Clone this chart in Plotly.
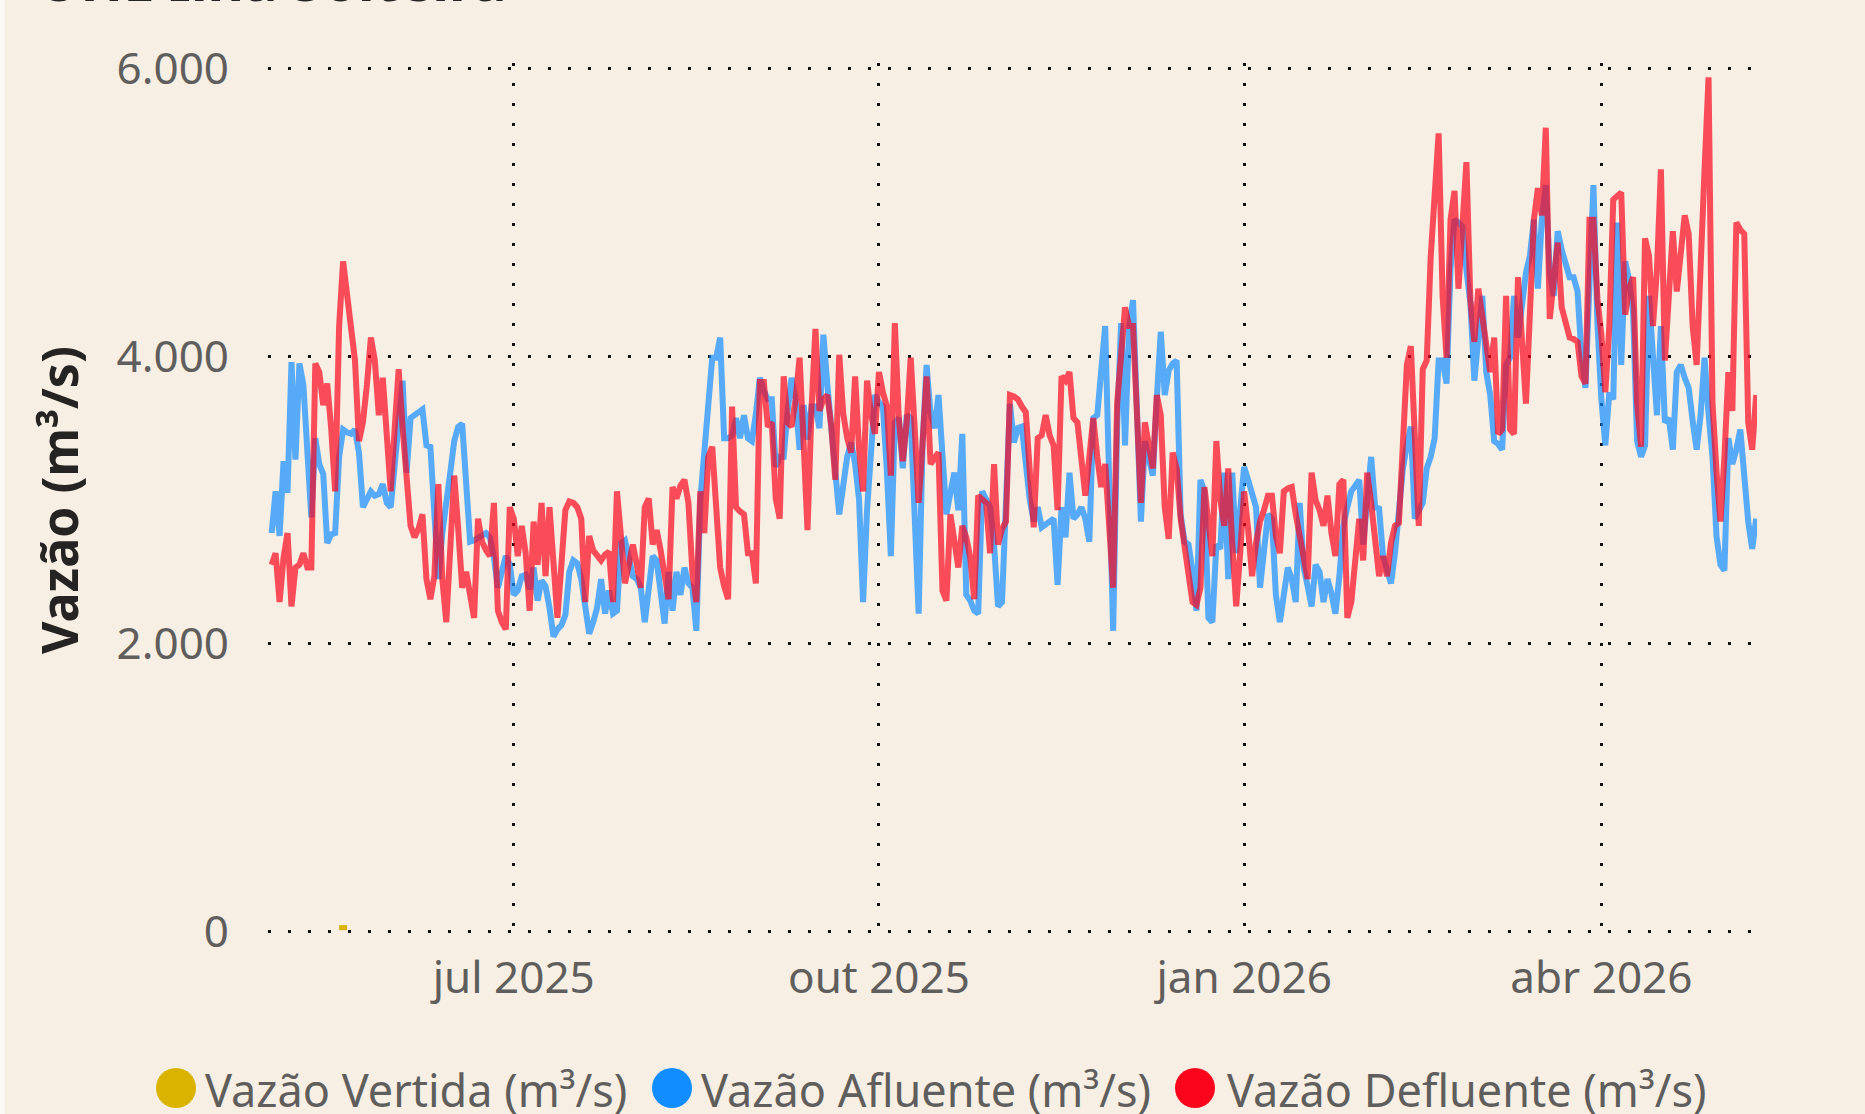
import pandas as pd
import plotly.graph_objects as go

# ---------------- data ----------------
start_date = "2025-05-01"
n_days = 375

vazao_afluente = [
    2770, 3060, 2750, 3270, 3050, 3960, 3280, 3950, 3800, 3400,
    2880, 3430, 3250, 3180, 2700, 2760, 2770, 3300, 3490, 3470,
    3460, 3490, 3330, 2950, 3000, 3060, 3030, 3040, 3110, 2980,
    2950, 3250, 3550, 3830, 3190, 3570, 3590, 3610, 3630, 3380,
    3370, 2900, 2450, 2770, 2950, 3190, 3410, 3510, 3530, 3100,
    2710, 2720, 2740, 2750, 2770, 2740, 2600, 2390, 2500, 2610,
    2550, 2340, 2370, 2470, 2480, 2380, 2530, 2300, 2440, 2400,
    2250, 2050, 2100, 2130, 2200, 2500, 2580, 2560, 2450, 2290,
    2070, 2150, 2250, 2450, 2210, 2370, 2210, 2230, 2700, 2720,
    2600, 2470, 2450, 2390, 2150, 2400, 2610, 2580, 2350, 2140,
    2500, 2230, 2500, 2340, 2530, 2420, 2390, 2090, 3000, 3300,
    3600, 3990, 3990, 4130, 3430, 3430, 3450, 3570, 3430, 3590,
    3430, 3410, 3600, 3850, 3760, 3700, 3700, 3230, 3300, 3300,
    3620, 3850, 3700, 3350, 3660, 3420, 3650, 3650, 3500, 4150,
    3800, 3500, 3200, 2900, 3100, 3300, 3400, 3250, 3000, 2290,
    2930, 3300, 3730, 3680, 3650, 3200, 2610, 3540, 3570, 3220,
    3590, 3570, 2900, 2210, 3400, 3940, 3600, 3500, 3730, 3300,
    2900, 3050, 3190, 2930, 3460, 2340, 2300, 2230, 2210, 3060,
    3000, 2950, 2690, 2260, 2290, 2900, 3670, 3400, 3500, 3510,
    3250, 3000, 2850, 2950, 2810, 2830, 2850, 2870, 2410, 2950,
    2740, 3190, 2870, 2900, 2950, 2870, 2710, 3570, 3590, 3900,
    4210, 3140, 2090, 3500, 4230, 3380, 4200, 4390, 3670, 2850,
    3410, 3300, 3170, 3700, 4170, 3730, 3900, 3950, 3970, 2900,
    2710, 2690, 2500, 2230, 3140, 3060, 2180, 2150, 2690, 2660,
    3190, 2450, 3190, 2630, 2900, 3230, 3140, 3050, 2950, 2390,
    2650, 2900, 2870, 2340, 2150, 2350, 2530, 2450, 2290, 2980,
    2530, 2400, 2260, 2550, 2500, 2290, 2450, 2350, 2210, 2470,
    2820, 2950, 3060, 3100, 3140, 2690, 3000, 3300, 2950, 2940,
    2610, 2500, 2420, 2630, 2950, 3220, 3380, 3510, 2870, 2930,
    2980, 3220, 3300, 3430, 3970, 3970, 3810, 4610, 4950, 4930,
    4900, 4600, 4370, 3830, 4100, 4420, 3890, 3730, 3410, 3390,
    3350, 3940, 3990, 4420, 4130, 4390, 4580, 4700, 4950, 4470,
    4950, 5190, 4580, 4420, 4870, 4740, 4650, 4550, 4550, 4450,
    4000, 3780, 4500, 5190, 4230, 3700, 3380, 3750, 3700, 4930,
    3940, 4660, 4530, 4300, 3410, 3300, 3380, 4420, 4000, 3590,
    4210, 3540, 3570, 3350, 3890, 3940, 3850, 3780, 3550, 3350,
    3590, 3990, 3600, 3300, 2750, 2550, 2510, 3430, 3250, 3350,
    3490, 3100, 2850, 2660, 2870,
]

vazao_defluente = [
    2550, 2630, 2290, 2600, 2770, 2260, 2530, 2550, 2630, 2530,
    2530, 3950, 3890, 3660, 3810, 3500, 3060, 4210, 4660, 4400,
    4210, 3970, 3410, 3540, 3800, 4130, 3970, 3590, 3850, 3410,
    3060, 3500, 3910, 3500, 3190, 2820, 2740, 2800, 2900, 2450,
    2310, 2470, 3110, 2450, 2150, 2700, 3170, 2800, 2390, 2500,
    2350, 2180, 2870, 2710, 2650, 2610, 2980, 2230, 2150, 2100,
    2950, 2870, 2610, 2820, 2630, 2230, 2850, 2550, 2980, 2470,
    2950, 2600, 2180, 2550, 2930, 2990, 2980, 2950, 2870, 2290,
    2750, 2650, 2610, 2580, 2620, 2640, 2290, 3060, 2750, 2420,
    2550, 2690, 2550, 2390, 2950, 3010, 2690, 2790, 2650, 2470,
    2310, 3090, 3010, 3100, 3140, 2980, 2500, 2290, 3060, 2770,
    3300, 3370, 2950, 2530, 2400, 2310, 3650, 2950, 2920, 2900,
    2630, 2630, 2420, 3820, 3820, 3510, 3540, 3010, 2870, 3860,
    3540, 3510, 3700, 3990, 3410, 2790, 3620, 4190, 3620, 3700,
    3730, 3510, 3140, 4010, 3600, 3430, 3330, 3860, 3350, 3060,
    3830, 3600, 3460, 3890, 3750, 3650, 3170, 4230, 3570, 3270,
    3540, 3990, 3500, 2980, 3400, 3860, 3250, 3300, 3330, 2370,
    2300, 2900, 2700, 2530, 2820, 2740, 2600, 2310, 3030, 3000,
    2980, 2630, 3250, 2690, 2800, 2850, 3730, 3720, 3700, 3650,
    3610, 3200, 2810, 3430, 3450, 3590, 3450, 3380, 2930, 3860,
    3830, 3890, 3570, 3540, 3300, 3030, 3300, 3570, 3300, 3090,
    3250, 2800, 2390, 3670, 4000, 4340, 4210, 4210, 3600, 2980,
    3540, 3350, 3220, 3730, 3590, 2950, 2730, 3330, 3220, 2870,
    2660, 2450, 2290, 2270, 2390, 3090, 2850, 2610, 3410, 3000,
    2820, 3220, 2700, 2260, 2630, 3060, 2800, 2470, 2700, 2850,
    2930, 3030, 3030, 2750, 2630, 3060, 3080, 3090, 2900, 2740,
    2600, 2450, 3190, 3000, 2930, 2820, 3030, 2770, 2610, 3110,
    3140, 2180, 2290, 2600, 2870, 2580, 3190, 2980, 2700, 2470,
    2610, 2470, 2700, 2820, 2840, 3410, 3940, 4070, 3500, 2820,
    3910, 3970, 4690, 5100, 5550, 4420, 3990, 4950, 5150, 4470,
    4900, 5350, 4390, 4100, 4470, 4250, 4050, 3890, 4130, 3460,
    3490, 4420, 3490, 3460, 4550, 4100, 3670, 4300, 4950, 5170,
    4980, 5590, 4260, 4530, 4790, 4340, 4250, 4130, 4120, 4100,
    3860, 3810, 4950, 4950, 4400, 4150, 3750, 4210, 5090, 5110,
    5140, 4290, 4470, 4550, 3670, 3370, 4820, 4700, 4210, 4600,
    5300, 3970, 4400, 4870, 4450, 4700, 4980, 4850, 4210, 3940,
    4740, 5300, 5940, 3670, 3200, 2850, 3300, 3890, 3620, 4930,
    4880, 4850, 3540, 3350, 3730,
]

vertida_dates = ["2025-05-18", "2025-05-19", "2025-05-20"]
vazao_vertida = [25, 25, 25]

tick_dates = ["2025-07-01", "2025-10-01", "2026-01-01", "2026-04-01"]
tick_labels = ["jul 2025", "out 2025", "jan 2026", "abr 2026"]
y_tick_vals = [0, 2000, 4000, 6000]
y_tick_labels = ["0", "2.000", "4.000", "6.000"]

series_names = ["Vazão Vertida (m³/s)", "Vazão Afluente (m³/s)", "Vazão Defluente (m³/s)"]
series_colors = ["#D9B300", "#118DFF", "#FA051C"]

dates = pd.date_range(start_date, periods=n_days, freq="D")

# ---------------- figure ----------------
W, H = 1865, 1114
ML, MR, MT, MB = 268, 108, 63, 177
PW, PH = W - ML - MR, H - MT - MB

def px_to_paper_x(px):
    return (px - ML) / PW

def py_to_paper_y(py):
    return (H - MB - py) / PH

FONT = "Segoe UI, Noto Sans, sans-serif"
BG = "#F7EFE4"

fig = go.Figure()
fig.add_trace(go.Scatter(
    x=vertida_dates, y=vazao_vertida, mode="lines", name=series_names[0],
    line=dict(color=series_colors[0], width=5), showlegend=False))
fig.add_trace(go.Scatter(
    x=dates, y=vazao_afluente, mode="lines", name=series_names[1],
    line=dict(color="rgba(17,141,255,0.7)", width=6), showlegend=False))
fig.add_trace(go.Scatter(
    x=dates, y=vazao_defluente, mode="lines", name=series_names[2],
    line=dict(color="rgba(250,5,28,0.7)", width=6), showlegend=False))

grid = dict(showgrid=True, gridcolor="#111111", gridwidth=3, griddash="3px,17px",
            zeroline=False, showline=False, ticks="")

fig.update_xaxes(
    type="date", range=["2025-04-30 02:00", "2026-05-10 05:00"],
    tickvals=tick_dates, ticktext=tick_labels,
    tickfont=dict(family=FONT, size=44, color="#605E5C"),
    ticklabelstandoff=11, **grid)
fig.update_yaxes(
    range=[-40, 6040], tickvals=y_tick_vals, ticktext=y_tick_labels,
    tickfont=dict(family=FONT, size=44, color="#605E5C"),
    ticklabelstandoff=38,
    title=dict(text="<b>Vazão (m³/s)</b>", font=dict(family=FONT, size=50, color="#252423"),
               standoff=22),
    **grid)

# manual legend (circle markers + text)
legend_circle_x = [176, 672, 1195]
legend_text_x = [203, 699, 1225]
legend_y = 1088
shapes = []
annotations = []
for name, color, cx, tx in zip(series_names, series_colors, legend_circle_x, legend_text_x):
    shapes.append(dict(type="circle", xref="paper", yref="paper",
                       xsizemode="pixel", ysizemode="pixel",
                       xanchor=px_to_paper_x(cx), yanchor=py_to_paper_y(legend_y),
                       x0=-20, x1=20, y0=-20, y1=20,
                       fillcolor=color, line=dict(width=0)))
    annotations.append(dict(text=name, xref="paper", yref="paper",
                            x=px_to_paper_x(tx), y=py_to_paper_y(legend_y + 1),
                            xanchor="left", yanchor="middle", showarrow=False,
                            font=dict(family=FONT, size=45, color="#605E5C")))

# left edge strip
shapes.append(dict(type="rect", xref="paper", yref="paper",
                   x0=px_to_paper_x(-2), x1=px_to_paper_x(4.5), y0=-0.4, y1=1.2,
                   fillcolor="#FCFAF6", line=dict(width=0), layer="below"))

# clipped title at the very top
annotations.append(dict(text="<b>UHE Ilha Solteira</b>", xref="paper", yref="paper",
                        x=px_to_paper_x(36), y=py_to_paper_y(19), xanchor="left",
                        yanchor="bottom", showarrow=False,
                        font=dict(family=FONT, size=56, color="#252423")))

fig.update_layout(
    width=W, height=H,
    margin=dict(l=ML, r=MR, t=MT, b=MB, autoexpand=False),
    paper_bgcolor=BG, plot_bgcolor=BG,
    showlegend=False,
    shapes=shapes, annotations=annotations,
    font=dict(family=FONT),
)

fig.write_html("out.html", config={"displayModeBar": False},
               post_script="document.body.style.margin='0';document.body.style.overflow='hidden';")
